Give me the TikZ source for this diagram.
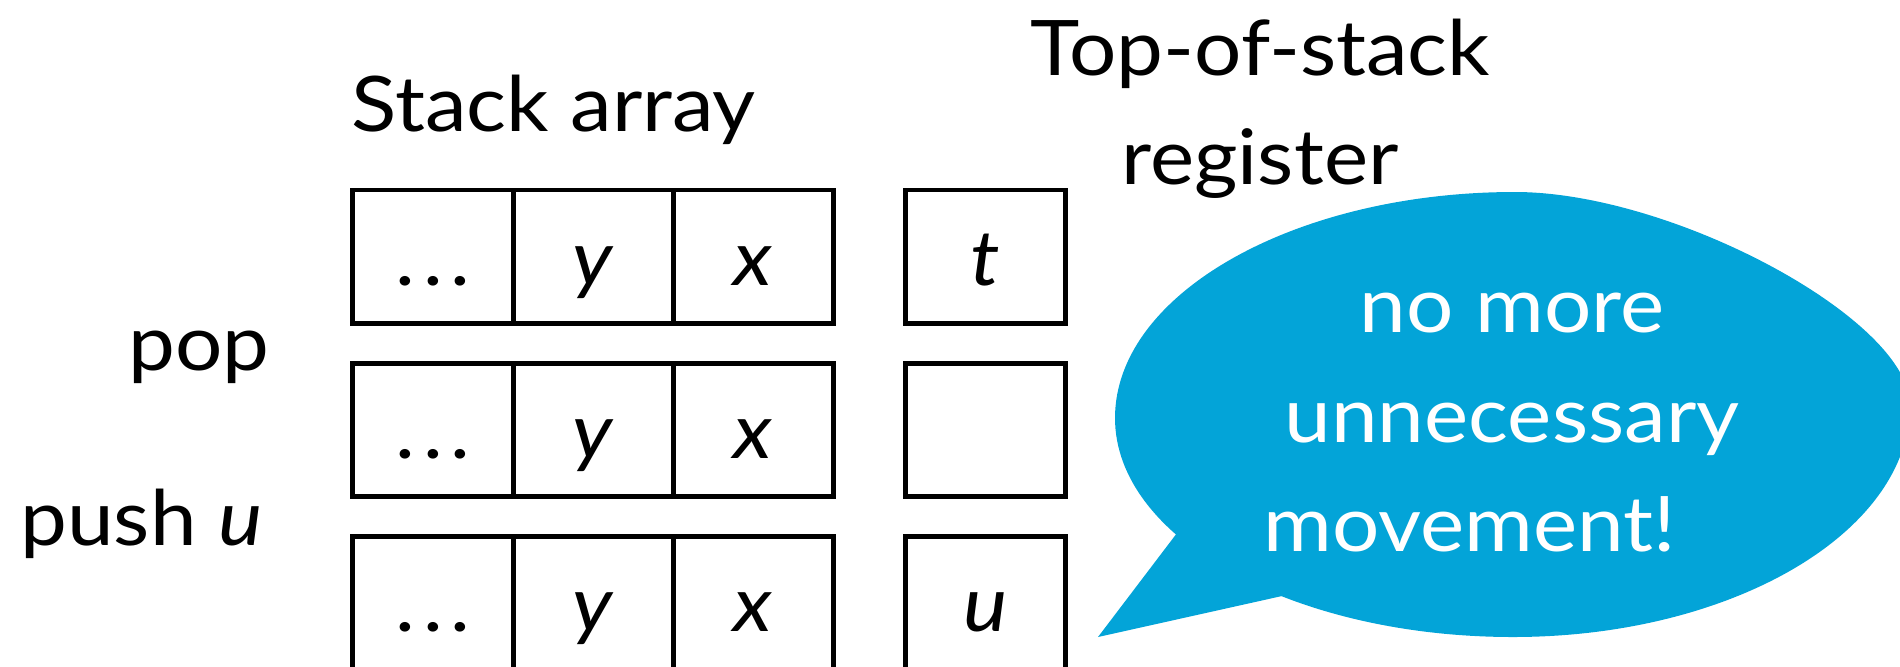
\documentclass[tikz,border=0pt]{standalone}
\usepackage{fontspec}
\setmainfont{Lato}[FakeStretch=1.09]
\usetikzlibrary{positioning}
\definecolor{Ink}{HTML}{000000}
\definecolor{Bubble}{HTML}{03A4D8}
\definecolor{White}{HTML}{FFFFFF}
\newcommand{\slidefont}{\fontsize{21.8}{31}\selectfont}
\newcommand{\celldots}{.\kern0.1em.\kern0.1em.}
\tikzset{
    cell/.style={rectangle, draw=Ink, line width=1.4pt, outer sep=0pt, inner sep=0pt, minimum width=1.6cm, minimum height=1.33cm, text height=0.58cm, text depth=0cm, font=\slidefont},
    lbl/.style={inner sep=0pt, text=Ink, font=\slidefont},
    bubtext/.style={inner sep=0pt, text=White, font=\slidefont, anchor=base},
}
\begin{document}
\begin{tikzpicture}[x=0.01cm, y=-0.01cm]
    \useasboundingbox (0,0) rectangle (1900,666);

    % Stack array, three states
    \node[cell] (dots1) at (433,256.5) {\celldots};
    \node[cell, right=0pt of dots1] (y1) {\textit{y}};
    \node[cell, right=0pt of y1] (x1) {\textit{x}};
    \node[cell, right=0.72cm of x1] (reg1) {\textit{t}};

    \node[cell, below=0.4cm of dots1] (dots2) {\celldots};
    \node[cell, right=0pt of dots2] (y2) {\textit{y}};
    \node[cell, right=0pt of y2] (x2) {\textit{x}};
    \node[cell, right=0.72cm of x2] (reg2) {};

    \node[cell, below=0.4cm of dots2] (dots3) {\celldots};
    \node[cell, right=0pt of dots3] (y3) {\textit{y}};
    \node[cell, right=0pt of y3] (x3) {\textit{x}};
    \node[cell, right=0.72cm of x3] (reg3) {\textit{u}};

    % Titles and operations
    \node[lbl, anchor=base west] (stacktitle) at (351,131) {Stack array};
    \node[lbl, anchor=base] (regtitle1) at (1260,75) {Top-of-stack};
    \node[lbl, anchor=base] (regtitle2) at (1260,184) {register};
    \node[lbl, anchor=base east] (poplbl) at (270,370) {pop};
    \node[lbl, anchor=base east] (pushlbl) at (263,545) {push \textit{u}};

    % Speech bubble
    \fill[Bubble] (1910,405) .. controls (1910,319.8) and (1673,192) .. (1515,192)
        .. controls (1295,192) and (1115,293.7) .. (1115,418)
        .. controls (1115,538.9) and (1293.3,637) .. (1513,637)
        .. controls (1731.4,637) and (1910,532.6) .. (1910,405) -- cycle;
    \fill[Bubble] (1177,533) -- (1098,637) -- (1282,596) -- (1300,500) -- cycle;
    \node[bubtext] (say1) at (1512,332) {no more};
    \node[bubtext] (say2) at (1512,442) {unnecessary};
    \node[bubtext] (say3) at (1470,551) {movement!};
\end{tikzpicture}
\end{document}
